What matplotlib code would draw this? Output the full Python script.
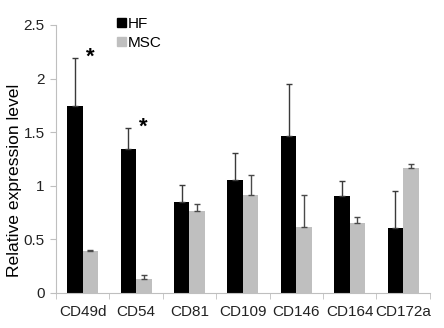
import matplotlib
matplotlib.use("Agg")
import matplotlib.pyplot as plt
import numpy as np
from matplotlib.patches import Patch

plt.rcParams['font.family'] = ['Liberation Sans', 'DejaVu Sans']

categories = ["CD49d", "CD54", "CD81", "CD109", "CD146", "CD164", "CD172a"]
hf_values = [1.74, 1.34, 0.85, 1.05, 1.46, 0.90, 0.60]
hf_err = [0.45, 0.20, 0.16, 0.25, 0.49, 0.14, 0.35]
msc_values = [0.385, 0.13, 0.765, 0.91, 0.615, 0.65, 1.16]
msc_err = [0.015, 0.04, 0.06, 0.19, 0.30, 0.06, 0.045]
y_ticks = [0, 0.5, 1, 1.5, 2, 2.5]
y_tick_labels = ["0", "0.5", "1", "1.5", "2", "2.5"]
star_idx = [0, 1]

fig = plt.figure(figsize=(4.44, 3.28), dpi=100)
ax = fig.add_axes([0.126, 0.1076, 0.842, 0.8162])

x = np.arange(len(categories))
w = 0.29
ax.bar(x - w/2, hf_values, w, color='black', label='HF',
       yerr=[np.zeros(len(x)), hf_err], error_kw=dict(ecolor='#3a3a3a', elinewidth=1.0, capsize=2.5, capthick=1.0))
ax.bar(x + w/2, msc_values, w, color='#bfbfbf', label='MSC',
       yerr=[np.zeros(len(x)), msc_err], error_kw=dict(ecolor='#4a4a4a', elinewidth=1.0, capsize=2.5, capthick=1.0))

for i in star_idx:
    ax.text(i + 0.14, hf_values[i] + hf_err[i] + 0.01, "*", ha='center', va='center',
            fontsize=16, fontweight='bold')

ax.set_xlim(-0.5, len(categories) - 0.5)
ax.set_ylim(0, 2.5)
ax.set_yticks(y_ticks)
ax.set_yticklabels(y_tick_labels, fontsize=11, color='#222222')
ax.set_xticks(x)
ax.set_xticklabels(categories, fontsize=11, color='#222222')
ax.tick_params(axis='x', length=0, pad=9)
ax.set_xticks(np.arange(-0.5, len(categories)), minor=True)
ax.tick_params(axis='x', which='minor', length=4, color='#bfbfbf')
ax.tick_params(axis='y', length=4, color='#bfbfbf', pad=4)
for s in ['top', 'right']:
    ax.spines[s].set_visible(False)
for s in ['left', 'bottom']:
    ax.spines[s].set_color('#bfbfbf')
ax.set_ylabel("Relative expression level", fontsize=12.6)
ax.yaxis.set_label_coords(-0.09, 0.42)

handles = [Patch(color='black'), Patch(color='#bfbfbf')]
ax.legend(handles, ['HF', 'MSC'], loc='upper left', bbox_to_anchor=(0.135, 1.07), frameon=False,
          fontsize=11, handlelength=0.55, handleheight=0.55, handletextpad=0.15, labelspacing=0.35,
          borderaxespad=0.3)

fig.savefig("out.png", dpi=100)
